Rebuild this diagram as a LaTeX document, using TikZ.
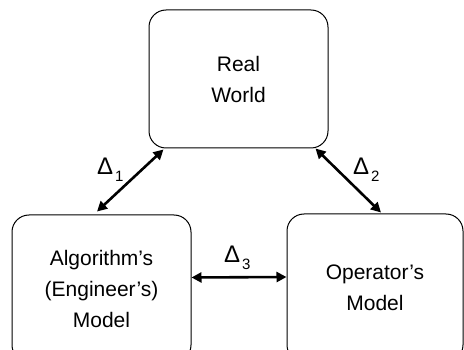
\documentclass[tikz,border=0pt]{standalone}
\usepackage{fontspec}
\setmainfont{Liberation Sans}
\usetikzlibrary{arrows.meta,calc}
\tikzset{
  box/.style={draw, line width=1pt, rounded corners=17pt, align=center, inner sep=0pt,
    font=\fontsize{21}{31}\selectfont},
  dbl/.style={line width=2.6pt, {Triangle[length=10pt,width=10pt]}-{Triangle[length=10pt,width=10pt]}},
  dlabel/.style={anchor=base west, inner sep=0pt, font=\fontsize{24}{24}\selectfont}
}
\newcommand{\dsub}[1]{\kern2pt\raisebox{-7pt}{\fontsize{15}{15}\selectfont #1}}
\begin{document}
\begin{tikzpicture}[x=1pt,y=-1pt]
\useasboundingbox (0,0) rectangle (464,350);
\node[box, minimum width=179pt, minimum height=138pt] (T) at (238.5,79) {Real\\World};
\node[box, minimum width=179pt, minimum height=147pt] (L) at (101.5,288.5) {Algorithm’s\\(Engineer’s)\\Model};
\node[box, minimum width=176pt, minimum height=148pt] (R) at (375,288) {Operator’s\\Model};
\draw[dbl] ($(L.north)+(-4.5,-3)$) -- ($(T.south west)+(15,1)$);
\draw[dbl] ($(T.south east)+(-13,0)$) -- ($(R.north)+(6,-1)$);
\draw[dbl] ($(L.east)+(0,-11)$) -- ($(R.west)+(0,-11)$);
\node[dlabel] (d1) at (97,175) {Δ\dsub{1}};
\node[dlabel] (d2) at (353,175) {Δ\dsub{2}};
\node[dlabel] (d3) at (224,263) {Δ\dsub{3}};
\end{tikzpicture}
\end{document}
